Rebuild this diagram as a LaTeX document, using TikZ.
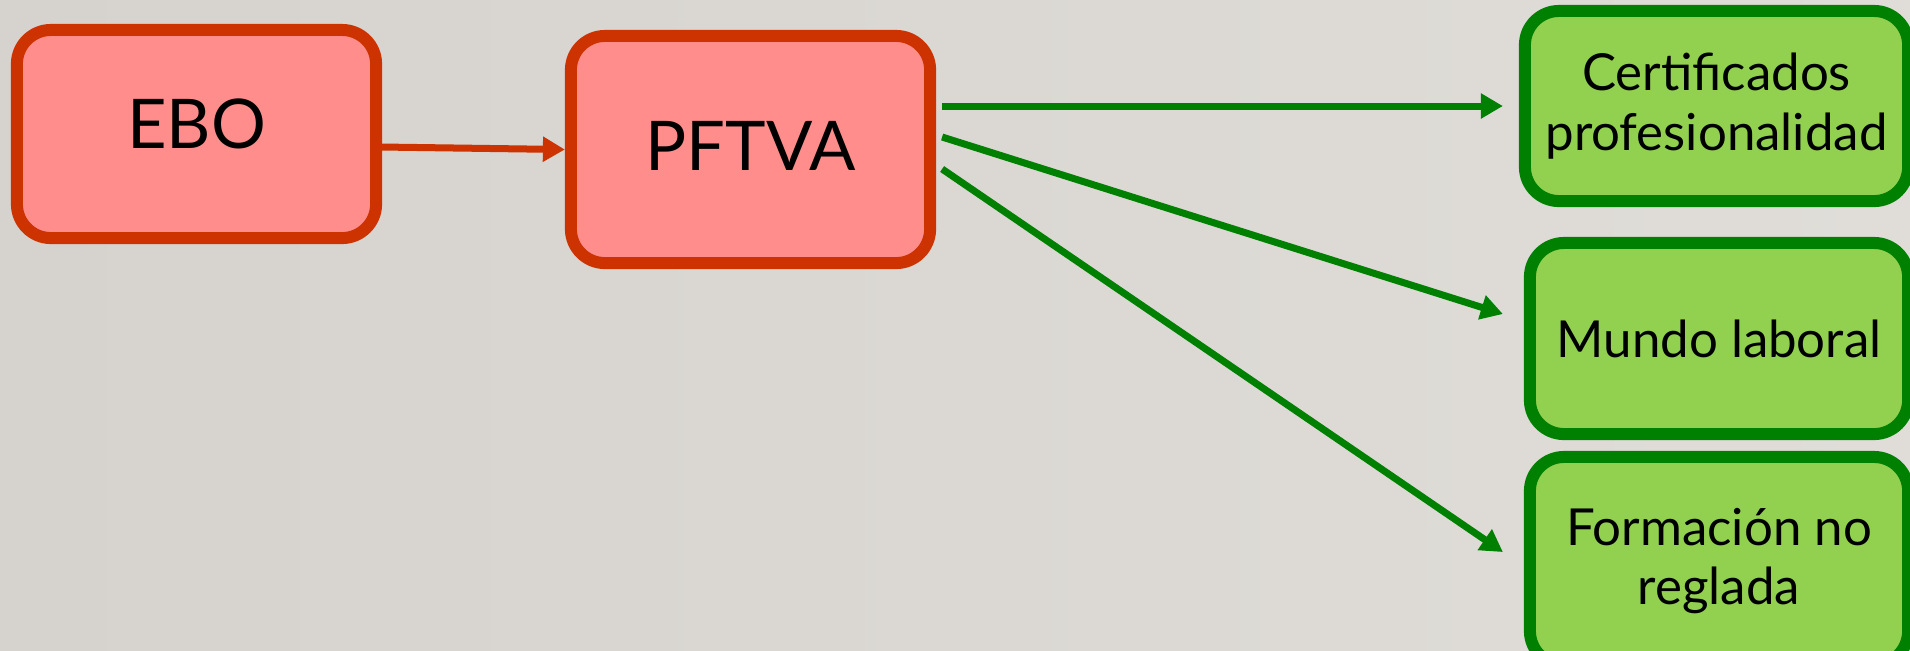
\documentclass[tikz,border=0pt]{standalone}
\usepackage{fontspec}
\setmainfont{Lato}
\usetikzlibrary{arrows.meta}
\definecolor{colR}{rgb}{.8,.2,0}
\definecolor{fillR}{rgb}{1,.553,.549}
\definecolor{colG}{rgb}{0,.5,0}
\definecolor{fillG}{rgb}{.573,.816,.314}
\definecolor{bgD}{rgb}{.839,.827,.808}
\definecolor{bgL}{rgb}{.914,.906,.890}
\definecolor{bgR}{rgb}{.878,.867,.851}
\tikzstyle{box}=[draw, rounded corners=3.4mm, line width=1.2mm, align=center, inner sep=0pt]
\tikzstyle{redbox}=[box, draw=colR, fill=fillR, text=black, font=\fontsize{19.5}{24}\selectfont]
\tikzstyle{greenbox}=[box, draw=colG, fill=fillG, text=black, font=\fontsize{14.5}{17}\selectfont]
\tikzstyle{edge}=[line width=0.7mm, -{Triangle[length=2.2mm,width=2.4mm]}]
\tikzstyle{redge}=[edge,colR]
\tikzstyle{gedge}=[edge,colG]

\begin{document}
\begin{tikzpicture}[x=0.01cm,y=-0.01cm]
			\useasboundingbox (0,0) rectangle (1910,650);
			\shade[left color=bgD, middle color=bgL, right color=bgR] (0,0) rectangle (1910,650);
			\clip (0,0) rectangle (1910,650);
			\node[redbox, minimum width=3.59cm, minimum height=2.08cm, text depth=2mm] (ebo) at (196.5,134) {EBO};
			\node[redbox, minimum width=3.59cm, minimum height=2.27cm, text depth=0.7mm] (pftva) at (750.5,149.5) {PFTVA};
			\node[greenbox, minimum width=3.83cm, minimum height=1.90cm] (cert) at (1716.5,106) {Certificados\\profesionalidad};
			\node[greenbox, minimum width=3.78cm, minimum height=1.91cm] (mundo) at (1719,338.5) {Mundo laboral};
			\node[greenbox, minimum width=3.78cm, minimum height=2.08cm] (form) at (1719,561) {Formación no\\reglada};
			\draw[redge] ([yshift=-0.13cm]ebo.east) -- (pftva.west);
			\draw[gedge] ([shift={(6,-43.5)}]pftva.east) -- ([shift={(-16,0)}]cert.west);
			\draw[gedge] ([shift={(6,-12.5)}]pftva.east) -- ([shift={(-21,-24.5)}]mundo.west);
			\draw[gedge] ([shift={(6,19.5)}]pftva.east) -- ([shift={(-21,-9)}]form.west);
		\end{tikzpicture}
\end{document}
